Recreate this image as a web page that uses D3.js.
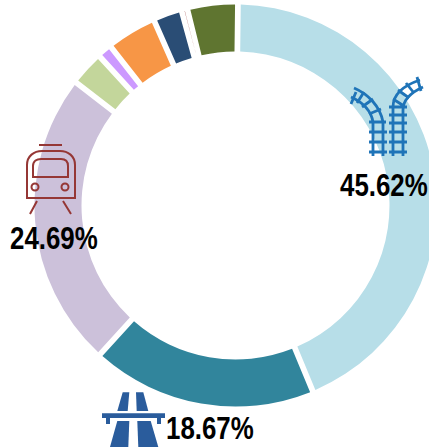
<!DOCTYPE html>
<html>
<head>
<meta charset="utf-8">
<script src="https://cdn.jsdelivr.net/npm/d3@7"></script>
<style>
    html, body { margin: 0; padding: 0; background: white; overflow: hidden; }
    text { font-family: "Liberation Sans", sans-serif; font-weight: bold; }
</style>
</head>
<body>
<div id="chart"></div>
<script>
// slice values, clockwise from the top
var categories = ["rail", "road", "tram", "c4", "c5", "c6", "c7", "c8", "c9"];
var values = [45.62, 18.67, 24.69, 2.55, 0.85, 3.85, 2.05, 0.12, 3.87];
var colors = ["#b7dee8", "#31859c", "#ccc1da", "#c3d69b", "#cc99ff", "#f79646", "#2a4d75", "#953735", "#5f7530"];

// only the three big slices get a label
var labels = ["45.62%", "18.67%", "24.69%"];

var width = 429,
    height = 447,
    cx = 235.5,
    cy = 205.5,
    outer = 201,
    inner = 154;

var svg = d3.select("#chart")
    .append("svg")
    .attr("width", width)
    .attr("height", height);

var pie = d3.pie()
    .sort(null)
    .startAngle(0.012)
    .endAngle(2 * Math.PI + 0.012)
    .padAngle(0.0225)
    .value(function(d, i) { return values[i]; });

var arc = d3.arc().innerRadius(inner).outerRadius(outer);

svg.append("g")
    .attr("transform", "translate(" + cx + "," + cy + ")")
    .selectAll("path")
    .data(pie(categories))
    .enter().append("path")
    .attr("d", arc)
    .attr("fill", function(d, i) { return colors[i]; });

// railway icon
var rail = svg.append("g")
    .attr("fill", "none")
    .attr("stroke", "#1f74b8")
    .attr("stroke-width", 2.8);
rail.append("path").attr("d", "M393,156V107C393,93 405,85 420,80M403,156V110C403,100 412,92 423,87");
rail.append("path").attr("d", "M389,107H407M389,115H407M389,123H407M389,132H407M389,142H407M389,152H407M393,99L404,106M398,90L409,98M406,83L414,93M417,77L421,91");
rail.append("path").attr("d", "M373,156V122C371,110 362,102 351,97M383,156V122C380,106 368,94 354,88");
rail.append("path").attr("d", "M369,152H387M369,142H387M369,132H387M369,122H386M369,114L381,109M362,107L373,99M357,103L364,92M351,104L356,92");

// tram icon
var tram = svg.append("g")
    .attr("fill", "none")
    .attr("stroke", "#953735")
    .attr("stroke-width", 2);
tram.append("path").attr("d", "M39,145H62");
tram.append("path").attr("d", "M27,198V165C27,156 34,151 42,151H60C68,151 75,156 75,165V198Z");
tram.append("path").attr("d", "M33,177V166C33,161 37,159 41,159H61C65,159 68,161 68,166V177Z");
tram.append("circle").attr("cx", 35).attr("cy", 187).attr("r", 3.5);
tram.append("circle").attr("cx", 65).attr("cy", 187).attr("r", 3.5);
tram.append("path").attr("d", "M37,201L30,214M63,201L71,214");

// motorway icon
var road = svg.append("g").attr("fill", "#2a5c9c");
road.append("path").attr("d", "M122.7,392.3H129.3L127.7,411H117.3Z");
road.append("path").attr("d", "M136,392.3H143.3L148.3,411H136.7Z");
road.append("path").attr("d", "M102,413.3H165V418H161V424H157V418H110V424H106V418H102Z");
road.append("path").attr("d", "M117.3,421H129.3L128.3,447H110Z");
road.append("path").attr("d", "M137.3,421H150.7L158.3,447H138.3Z");

// percent labels, squeezed to the narrow width of the original
var labelX = [340, 166, 10],
    labelY = [196, 439, 249];
svg.selectAll(".pct")
    .data(labels)
    .enter().append("text")
    .attr("class", "pct")
    .attr("transform", function(d, i) {
        return "translate(" + labelX[i] + "," + labelY[i] + ") scale(0.835,1)";
    })
    .attr("font-size", 31)
    .attr("fill", "#000")
    .text(function(d) { return d; });
</script>
</body>
</html>
